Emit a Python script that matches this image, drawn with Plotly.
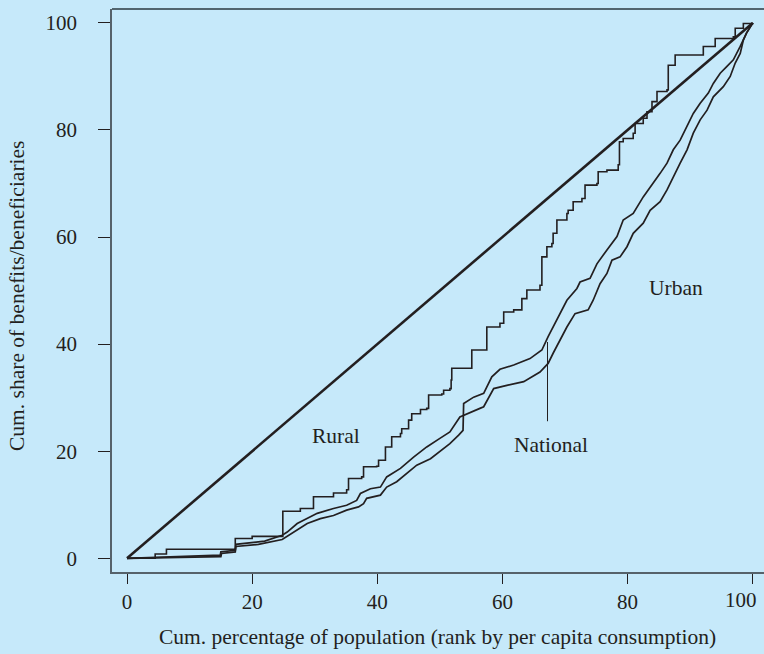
import plotly.graph_objects as go

# Concentration curves (cumulative % of population vs cumulative share of benefits)
rural_x = [0, 4.5, 4.5, 6.3, 6.3, 17.3, 17.3, 20.0, 24.9, 24.9, 27.7, 29.8, 32.5, 33.0, 35.1, 35.4,
           37.5, 37.8, 39.9, 40.2, 41.3, 42.3, 43.7, 43.9, 45.0, 45.5, 46.9, 47.9, 48.2, 50.3, 50.6,
           51.6, 51.8, 51.9, 54.8, 55.1, 57.2, 57.5, 59.6, 60.2, 61.8, 63.1, 63.9, 66.0, 66.3, 67.1,
           67.9, 68.1, 68.7, 70.3, 70.5, 71.3, 72.7, 73.2, 75.1, 75.3, 76.7, 78.5, 78.7, 79.3, 80.9,
           81.2, 82.5, 83.1, 83.9, 84.7, 86.3, 86.5, 87.6, 91.6, 92.1, 94.0, 96.9, 97.2, 98.5, 100]
rural_y = [0, 0, 0.8, 0.8, 1.7, 1.8, 3.7, 4.1, 4.9, 8.8, 9.3, 11.5, 11.5, 12.2, 12.8, 14.9,
           15.2, 17.1, 17.2, 18.3, 20.8, 22.7, 23.3, 24.2, 25.8, 27.0, 27.8, 28.0, 30.5, 30.7, 31.4,
           31.7, 33.3, 35.5, 35.5, 38.9, 38.9, 43.2, 43.9, 46.0, 46.4, 48.5, 50.1, 51.0, 56.3, 58.2,
           58.8, 60.7, 63.2, 64.4, 65.0, 66.6, 67.2, 69.7, 70.0, 72.2, 72.5, 73.5, 77.8, 78.4, 79.4,
           81.2, 82.2, 83.4, 85.3, 87.2, 87.5, 92.1, 94.0, 94.0, 95.6, 97.1, 97.4, 99.0, 99.9, 100]

national_x = [0, 15.0, 15.1, 17.3, 17.4, 21.0, 24.8, 27.2, 28.8, 30.9, 33.0, 35.1, 37.0, 37.8, 38.3,
              40.5, 41.5, 43.1, 44.7, 46.3, 48.5, 50.0, 51.6, 53.0, 53.7, 53.8, 55.4, 57.0, 58.3, 59.6,
              61.8, 64.4, 66.3, 67.3, 68.7, 70.3, 71.9, 72.4, 74.0, 75.1, 76.7, 78.3, 79.3, 80.9, 82.5,
              84.1, 85.2, 86.3, 87.3, 88.4, 89.5, 90.5, 91.6, 92.9, 93.7, 94.8, 95.8, 96.9, 98.0, 99.0,
              99.8, 100]
national_y = [0, 0.3, 0.9, 1.2, 2.2, 2.6, 3.5, 5.2, 6.5, 7.4, 8.0, 9.0, 9.6, 10.2, 11.2,
              11.8, 13.3, 14.3, 15.8, 17.4, 18.6, 19.9, 21.4, 23.0, 23.9, 28.9, 30.1, 30.8, 33.9, 35.3,
              36.1, 37.3, 38.9, 41.4, 44.6, 48.2, 50.4, 51.6, 52.3, 55.0, 57.6, 60.1, 63.2, 64.4, 67.5,
              70.0, 71.9, 73.8, 76.3, 78.1, 80.6, 83.1, 85.0, 86.9, 88.7, 90.6, 91.8, 93.1, 95.6, 98.1,
              99.6, 100]

urban_x = [0, 4.5, 10.0, 14.9, 15.0, 17.3, 17.4, 20.0, 22.0, 24.8, 25.6, 27.2, 28.8, 30.4, 33.0,
           35.1, 36.7, 37.3, 38.9, 40.5, 41.5, 43.7, 45.8, 47.9, 50.0, 51.6, 53.2, 54.3, 56.4, 57.0,
           58.6, 60.7, 63.4, 66.0, 67.3, 68.1, 69.2, 70.3, 71.6, 73.7, 74.5, 75.6, 76.7, 77.5, 78.8,
           79.9, 80.9, 82.5, 83.6, 85.2, 86.3, 87.3, 88.4, 89.5, 90.5, 91.6, 92.7, 93.7, 95.3, 96.4,
           97.2, 98.0, 98.5, 99.0, 100]
urban_y = [0, 0.2, 0.4, 0.6, 1.2, 1.5, 2.6, 2.9, 3.2, 4.3, 4.9, 6.5, 7.4, 8.4, 9.3,
           9.9, 10.8, 12.1, 13.0, 13.3, 15.2, 16.8, 18.9, 20.8, 22.4, 23.6, 26.4, 27.0, 28.0, 28.3,
           31.7, 32.3, 33.0, 34.8, 36.4, 38.3, 40.7, 43.2, 45.7, 46.4, 48.2, 51.3, 53.2, 55.7, 56.3,
           58.2, 60.7, 62.6, 65.0, 66.6, 68.8, 71.3, 73.8, 76.3, 79.4, 81.9, 83.7, 86.2, 88.1, 90.0,
           92.5, 94.3, 96.8, 98.1, 100]

equality_x = [0, 100]
equality_y = [0, 100]

tick_vals = [0, 20, 40, 60, 80, 100]
x_tick_text = ["0", "20", "40", "60", "80", ""]   # "100" drawn separately (shifted left at the edge)
y_tick_text = ["0", "20", "40", "60", "80", "100"]
last_x_label = "100"

INK = "#231f20"
BG = "#C6E9FA"
FONT = "Liberation Serif, Times New Roman, serif"

W, H = 764, 654
L, R, T, B = 112, 0, 9, 82
PW, PH = W - L - R, H - T - B

fig = go.Figure()
fig.add_trace(go.Scatter(x=equality_x, y=equality_y, mode="lines",
                         line=dict(color=INK, width=2.6), hoverinfo="skip"))
fig.add_trace(go.Scatter(x=rural_x, y=rural_y, mode="lines", line_shape="hv",
                         line=dict(color=INK, width=1.6), name="Rural"))
fig.add_trace(go.Scatter(x=national_x, y=national_y, mode="lines",
                         line=dict(color=INK, width=1.7), name="National"))
fig.add_trace(go.Scatter(x=urban_x, y=urban_y, mode="lines",
                         line=dict(color=INK, width=1.7), name="Urban"))

# pointer line for the National label
fig.add_shape(type="line", x0=67.2, x1=67.2, y0=25.6, y1=40.4,
              line=dict(color=INK, width=1))
# top frame line
fig.add_shape(type="line", xref="paper", yref="paper", x0=0, x1=1, y0=1, y1=1,
              line=dict(color="#2b3840", width=1.5))

for txt, x, y in [("Rural", 33.4, 22.9), ("National", 67.8, 21.1), ("Urban", 87.8, 50.4)]:
    fig.add_annotation(x=x, y=y, text=txt, showarrow=False,
                       font=dict(family=FONT, size=21.5, color=INK))

# last x tick label, kept inside the page like in the reference
fig.add_annotation(x=98.05, xref="x", yref="paper", y=-(600 - (H - B)) / PH,
                   text=last_x_label, showarrow=False, xanchor="center", yanchor="middle",
                   font=dict(family=FONT, size=21, color=INK))

# axis titles placed as annotations
fig.add_annotation(xref="paper", yref="paper",
                   x=(437 - L) / PW, y=-(637 - (H - B)) / PH,
                   text="Cum. percentage of population (rank by per capita consumption)",
                   showarrow=False, xanchor="center", yanchor="middle",
                   font=dict(family=FONT, size=21.5, color=INK))
fig.add_annotation(xref="paper", yref="paper",
                   x=-(L - 17) / PW, y=((H - B) - 296) / PH,
                   text="Cum. share of benefits/beneficiaries", textangle=-90,
                   showarrow=False, xanchor="center", yanchor="middle",
                   font=dict(family=FONT, size=21.5, color=INK))

fig.update_layout(
    width=W, height=H,
    margin=dict(l=L, r=R, t=T, b=B, autoexpand=False),
    paper_bgcolor=BG, plot_bgcolor=BG,
    showlegend=False,
    font=dict(family=FONT, size=21, color=INK),
)
fig.update_xaxes(range=[-2.4, 101.8], tickvals=tick_vals, ticktext=x_tick_text,
                 showgrid=False, zeroline=False, showline=True, linecolor="#56626a",
                 linewidth=1.5, ticks="outside", ticklen=10, tickwidth=1,
                 tickcolor=INK, ticklabelstandoff=0, automargin=False,
                 tickfont=dict(family=FONT, size=21, color=INK))
fig.update_yaxes(range=[-2.56, 102.6], tickvals=tick_vals, ticktext=y_tick_text,
                 showgrid=False, zeroline=False, showline=True, linecolor="#56626a",
                 linewidth=1.5, ticks="outside", ticklen=12, tickwidth=1,
                 tickcolor=INK, ticklabelstandoff=17, automargin=False,
                 tickfont=dict(family=FONT, size=21, color=INK))

post = ("document.documentElement.style.margin='0';document.body.style.margin='0';"
        "document.body.style.background='%s';document.body.style.overflow='hidden';" % BG)
fig.write_html("out.html", post_script=post, config={"displayModeBar": False})
